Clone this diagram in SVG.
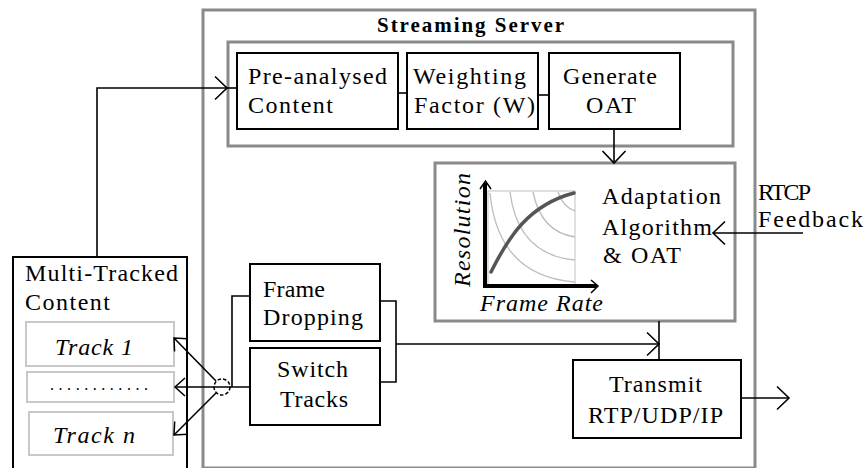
<svg xmlns="http://www.w3.org/2000/svg" width="866" height="468" viewBox="0 0 866 468">
<style>
text{font-family:"Liberation Serif","Times New Roman",serif;font-size:24px;fill:#000}
.t{font-weight:bold;font-size:21px}
.i{font-style:italic}
.box{fill:#fff;stroke:#000;stroke-width:2}
.grp{fill:none;stroke:#8a8a8a;stroke-width:3}
.trk{fill:#fff;stroke:#c8c8c8;stroke-width:2}
.ln{fill:none;stroke:#000;stroke-width:1.6}
.cv{fill:none;stroke:#bdbdbd;stroke-width:1.3}
</style>
<defs>
<marker id="a" markerUnits="userSpaceOnUse" orient="auto" overflow="visible" markerWidth="1" markerHeight="1" refX="0" refY="0">
<path d="M-12,-11.5 L0,0 L-12,11.5" fill="none" stroke="#000" stroke-width="1.6"/>
</marker>
<marker id="s" markerUnits="userSpaceOnUse" orient="auto" overflow="visible" markerWidth="1" markerHeight="1" refX="0" refY="0">
<path d="M-10,-9 L0,0 L-10,9" fill="none" stroke="#000" stroke-width="1.5"/>
</marker>
</defs>

<g id="streaming-server">
<rect class="grp" x="203" y="10" width="552" height="458"/>
<text class="t" x="377" y="31.5" textLength="187" lengthAdjust="spacing">Streaming Server</text>
</g>

<g id="analysis-group">
<rect class="grp" x="228" y="42" width="505" height="104"/>
</g>

<g id="pre-analysed">
<rect class="box" x="237" y="53" width="161" height="76"/>
<text x="248" y="84" textLength="139" lengthAdjust="spacing">Pre-analysed</text>
<text x="248" y="113" textLength="85" lengthAdjust="spacing">Content</text>
</g>

<g id="weighting">
<rect class="box" x="407" y="53" width="131" height="76"/>
<text x="413" y="84" textLength="113" lengthAdjust="spacing">Weighting</text>
<text x="414" y="113" textLength="121" lengthAdjust="spacing">Factor (W)</text>
</g>

<g id="generate-oat">
<rect class="box" x="549" y="53" width="131" height="76"/>
<text x="563" y="84" textLength="94" lengthAdjust="spacing">Generate</text>
<text x="586" y="113" textLength="50" lengthAdjust="spacing">OAT</text>
</g>

<g id="adaptation">
<rect class="grp" x="435" y="163" width="300" height="158"/>
<rect x="488" y="191" width="87" height="94" fill="none" stroke="#cfcfcf" stroke-width="1.3"/>
<path class="cv" d="M490,193 Q498,276 575,282"/>
<path class="cv" d="M510,192 Q518,255 575,260"/>
<path class="cv" d="M533,192 Q541,232 575,237"/>
<path class="cv" d="M558,192 Q563,207 575,211"/>
<path d="M491,272 C508,238 528,205 574,193" fill="none" stroke="#555" stroke-width="3.5" stroke-linecap="round"/>
<path d="M485,183 V286 H597" fill="none" stroke="#000" stroke-width="4"/>
<path d="M480,189 L485.5,181 L491,189" fill="none" stroke="#000" stroke-width="1.5"/>
<path d="M591,280 L598,286 L591,293" fill="none" stroke="#000" stroke-width="1.5"/>
<text class="i" transform="translate(470,287) rotate(-90)" textLength="114" lengthAdjust="spacing">Resolution</text>
<text class="i" x="480" y="311" textLength="123" lengthAdjust="spacing">Frame Rate</text>
<text x="602" y="204" textLength="119" lengthAdjust="spacing">Adaptation</text>
<text x="602" y="235" textLength="110" lengthAdjust="spacing">Algorithm</text>
<text x="603" y="263" textLength="78" lengthAdjust="spacing">&amp; OAT</text>
</g>

<g id="rtcp-feedback">
<text x="758" y="200" textLength="53" lengthAdjust="spacing">RTCP</text>
<text x="758" y="227" textLength="105" lengthAdjust="spacing">Feedback</text>
</g>

<g id="multi-tracked">
<rect class="box" x="13" y="257" width="174" height="215"/>
<text x="25" y="281" textLength="153" lengthAdjust="spacing">Multi-Tracked</text>
<text x="25" y="310" textLength="85" lengthAdjust="spacing">Content</text>
</g>

<g id="track-1">
<rect class="trk" x="26" y="322" width="148" height="44"/>
<text class="i" x="55" y="355" textLength="78" lengthAdjust="spacing">Track 1</text>
</g>

<g id="track-dots">
<rect class="trk" x="27" y="372" width="147" height="30"/>
<text x="50" y="390" style="font-size:16px" textLength="98" lengthAdjust="spacing">............</text>
</g>

<g id="track-n">
<rect class="trk" x="29" y="412" width="144" height="43"/>
<text class="i" x="53" y="443" textLength="82" lengthAdjust="spacing">Track n</text>
</g>

<g id="frame-dropping">
<rect class="box" x="250" y="264" width="130" height="77"/>
<text x="263" y="297" textLength="62" lengthAdjust="spacing">Frame</text>
<text x="263" y="325" textLength="100" lengthAdjust="spacing">Dropping</text>
</g>

<g id="switch-tracks">
<rect class="box" x="250" y="348" width="130" height="77"/>
<text x="277" y="377" textLength="71" lengthAdjust="spacing">Switch</text>
<text x="280" y="407" textLength="68" lengthAdjust="spacing">Tracks</text>
</g>

<g id="transmit">
<rect class="box" x="573" y="360" width="168" height="78"/>
<text x="609" y="392" textLength="93" lengthAdjust="spacing">Transmit</text>
<text x="588" y="423" textLength="135" lengthAdjust="spacing">RTP/UDP/IP</text>
</g>

<g id="connectors">
<path class="ln" d="M97,257 V88 H227" marker-end="url(#a)"/>
<path class="ln" d="M227,88 H237"/>
<path class="ln" d="M398,93 H407"/>
<path class="ln" d="M538,95 H549"/>
<path class="ln" d="M614,129 V163" marker-end="url(#a)"/>
<path class="ln" d="M803,233 H713" marker-end="url(#a)"/>
<path class="ln" d="M659,321 V360"/>
<path class="ln" d="M380,301 H396 V382 H380"/>
<path class="ln" d="M396,344 H659" marker-end="url(#a)"/>
<path class="ln" d="M250,296 H232 V387"/>
<path class="ln" d="M250,387 H175" marker-end="url(#s)"/>
<circle cx="222" cy="387" r="8" fill="none" stroke="#000" stroke-width="1.5" stroke-dasharray="3.5 2"/>
<path class="ln" d="M216,381 L174,338" marker-end="url(#s)"/>
<path class="ln" d="M216,393 L174,435" marker-end="url(#s)"/>
<path class="ln" d="M741,398 H789" marker-end="url(#a)"/>
</g>
</svg>
